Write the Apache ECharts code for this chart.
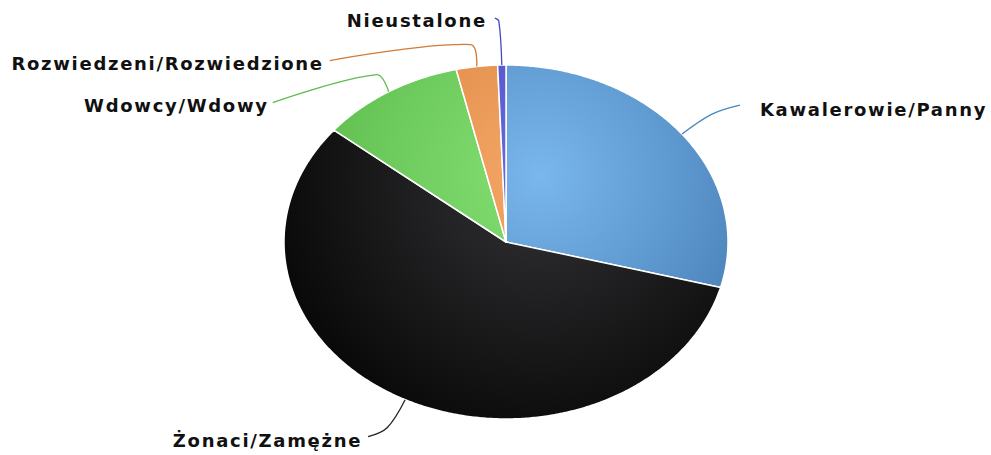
<!DOCTYPE html>
<html>
<head>
<meta charset="utf-8">
<script src="https://cdn.jsdelivr.net/npm/echarts@6/dist/echarts.min.js"></script>
<style>
html,body{margin:0;padding:0;background:#fff;}
#chart{width:991px;height:455px;}
#chart text{letter-spacing:1.7px;}
</style>
</head>
<body>
<div id="chart"></div>
<script>
// ---- data ----
var categories = ['Kawalerowie/Panny', 'Żonaci/Zamężne', 'Wdowcy/Wdowy', 'Rozwiedzeni/Rozwiedzione', 'Nieustalone'];
var values = [29.1, 56.7, 10.5, 3.0, 0.6];

// ---- styles / layout ----
var gradStops = [
  ['#7ab7ec', '#3b73ab'],
  ['#333336', '#050505'],
  ['#86e074', '#55b545'],
  ['#f5a868', '#d47a35'],
  ['#6a6ae0', '#4040b8']
];
var lineColors = ['#4a86c0', '#222222', '#5cbc4c', '#d07a35', '#4848c0'];
var pieLayout = { cx: 506, cy: 242, rx: 222, ry: 177 };
// label line bend offsets (relative to slice edge) and text offset from line end
var labelLayout = [
  { p1: [30, -20], p2: [58, -29], t: [20, 4], align: 'left' },
  { p1: [-18, 28], p2: [-37, 37], t: [-6, 4], align: 'right' },
  { p1: [-12, -17], p2: [-116, 11], t: [-4, 3], align: 'right' },
  { p1: [-6, -22], p2: [-147, -6], t: [-6, 3], align: 'right' },
  { p1: [-3, -44], p2: [-7, -47], t: [-8, 2], align: 'right' }
];

var total = values.reduce(function (a, b) { return a + b; }, 0);
var starts = [];
var acc = 0;
values.forEach(function (v) { starts.push(acc); acc += v; });

function pt(a) {
  return [pieLayout.cx + pieLayout.rx * Math.sin(a), pieLayout.cy - pieLayout.ry * Math.cos(a)];
}

var chart = echarts.init(document.getElementById('chart'), null, { renderer: 'svg' });

chart.setOption({
  backgroundColor: '#ffffff',
  animation: false,
  series: [{
    type: 'custom',
    coordinateSystem: 'none',
    data: categories.map(function (c, i) { return { name: c, value: values[i] }; }),
    renderItem: function (params, api) {
      var i = params.dataIndex;
      var v = api.value(0);
      var a0 = starts[i] / total * Math.PI * 2;
      var a1 = a0 + v / total * Math.PI * 2;
      var pts = [[pieLayout.cx, pieLayout.cy]];
      var n = Math.max(2, Math.ceil((a1 - a0) / (Math.PI / 360)));
      for (var k = 0; k <= n; k++) {
        pts.push(pt(a0 + (a1 - a0) * k / n));
      }
      var mid = (a0 + a1) / 2;
      var e = pt(mid);
      var L = labelLayout[i];
      var q1 = [e[0] + L.p1[0], e[1] + L.p1[1]];
      var q2 = [e[0] + L.p2[0], e[1] + L.p2[1]];
      return {
        type: 'group',
        children: [
          {
            type: 'polygon',
            shape: { points: pts },
            style: {
              fill: {
                type: 'radial', x: 540, y: 175, r: 300, global: true,
                colorStops: [
                  { offset: 0, color: gradStops[i][0] },
                  { offset: 1, color: gradStops[i][1] }
                ]
              },
              stroke: '#ffffff',
              lineWidth: 1.5,
              lineJoin: 'round'
            }
          },
          {
            type: 'polyline',
            shape: { points: [e, q1, q2], smooth: 0.35 },
            style: { stroke: lineColors[i], lineWidth: 1.3, fill: null }
          },
          {
            type: 'text',
            x: q2[0] + L.t[0],
            y: q2[1] + L.t[1],
            style: {
              text: categories[i],
              fontFamily: 'DejaVu Sans',
              fontWeight: 'bold',
              fontSize: 18,
              fill: '#111111',
              align: L.align,
              verticalAlign: 'middle'
            }
          }
        ]
      };
    }
  }]
});
</script>
</body>
</html>
